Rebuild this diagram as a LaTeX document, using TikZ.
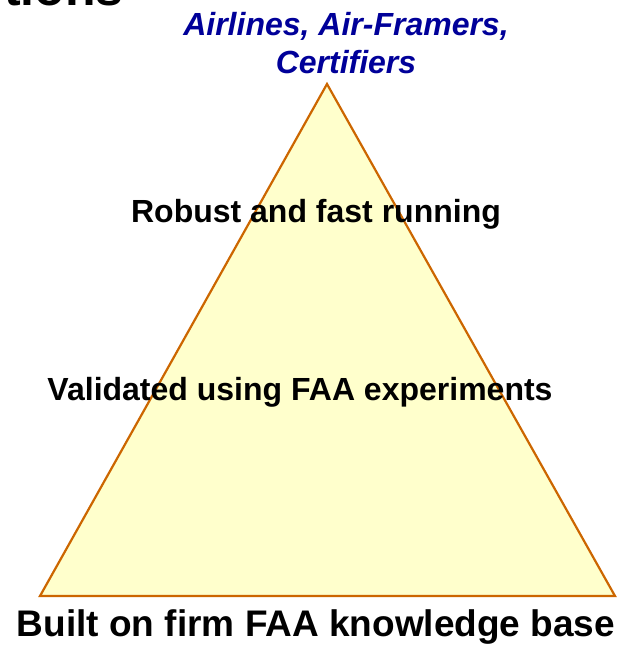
\documentclass[tikz,border=0pt]{standalone}
\usepackage{fontspec}
\setmainfont{Liberation Sans}
\definecolor{tribg}{HTML}{FFFFCC}
\definecolor{triedge}{HTML}{CC6600}
\definecolor{topblue}{HTML}{000099}
\begin{document}
\begin{tikzpicture}[x=1pt,y=1pt,
  label32/.style={font=\bfseries\fontsize{32}{38}\selectfont, inner sep=0pt, align=center},
  audience/.style={label32, font=\bfseries\itshape\fontsize{32}{38}\selectfont, text=topblue},
  basetext/.style={font=\bfseries\fontsize{37}{44}\selectfont, inner sep=0pt}]
  \useasboundingbox (0,0) rectangle (633,-648);
  % heading text running off the top edge
  \begin{scope}
    \clip (0,0) rectangle (633,-648);
    \node[anchor=base west, font=\bfseries\fontsize{50}{60}\selectfont, inner sep=0pt] (head) at (4,-5.5) {tions};
  \end{scope}
  % pyramid
  \coordinate (apex) at (327,-84);
  \coordinate (bl) at (40,-596);
  \coordinate (br) at (615,-596);
  \filldraw[fill=tribg, draw=triedge, line width=2.2pt, line join=miter] (apex) -- (br) -- (bl) -- cycle;
  % labels
  \node[audience] (top) at (346,-43) {Airlines, Air-Framers,\\Certifiers};
  \node[label32] (robust) at (316,-214) {Robust and fast running};
  \node[label32] (valid) at (300,-392) {Validated using FAA experiments};
  \node[basetext] (base) at (316,-627) {Built on firm FAA knowledge base};
\end{tikzpicture}
\end{document}
